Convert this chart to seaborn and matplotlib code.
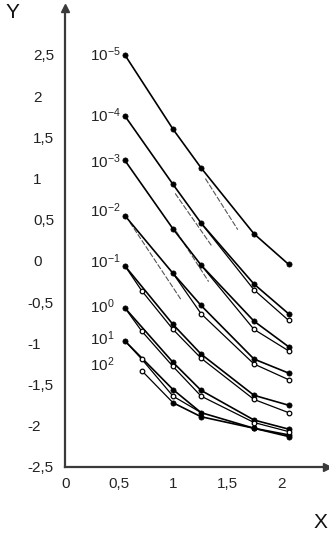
import numpy as np
import pandas as pd
import matplotlib
matplotlib.use("Agg")
import matplotlib.pyplot as plt
from matplotlib.transforms import blended_transform_factory
import seaborn as sns

# ---------------- data ----------------
labels = ["10$^{-5}$", "10$^{-4}$", "10$^{-3}$", "10$^{-2}$",
          "10$^{-1}$", "10$^{0}$", "10$^{1}$", "10$^{2}$"]
label_x = 0.23
label_y = [2.43, 1.69, 1.13, 0.53, -0.09, -0.63, -1.02, -1.34]

x_filled = [0.555, 1.0, 1.26, 1.75, 2.07]
x_open = [0.71, 1.0, 1.26, 1.75, 2.07]

y_filled = [
    [2.50, 1.60, 1.13, 0.33, -0.04],
    [1.76, 0.93, 0.46, -0.28, -0.64],
    [1.22, 0.39, -0.05, -0.73, -1.04],
    [0.55, -0.15, -0.54, -1.19, -1.36],
    [-0.06, -0.77, -1.13, -1.63, -1.75],
    [-0.57, -1.23, -1.57, -1.93, -2.04],
    [-0.97, -1.56, -1.84, -2.03, -2.11],
    [None, -1.72, -1.89, -2.03, -2.13],
]
y_open = [
    [None, None, None, None, None],
    [None, None, None, -0.35, -0.72],
    [None, None, None, -0.83, -1.09],
    [None, None, -0.64, -1.25, -1.44],
    [-0.36, -0.83, -1.18, -1.68, -1.84],
    [-0.85, -1.28, -1.64, -1.96, -2.07],
    [-1.19, -1.64, None, None, None],
    [-1.33, None, None, None, None],
]
# index of filled point where the open branch starts / rejoins
open_branch = [None, 2, 2, 1, 0, 0, 0, None]
open_join = [None, None, None, None, None, None, 2, 1]

# thin dashed reference lines (start / end)
dash_x0 = [1.30, 1.02, 1.03, 0.60]
dash_y0 = [1.00, 0.82, 0.36, 0.47]
dash_x1 = [1.60, 1.36, 1.33, 1.08]
dash_y1 = [0.38, 0.18, -0.25, -0.48]

y_ticks = [-2.5, -2, -1.5, -1, -0.5, 0, 0.5, 1, 1.5, 2, 2.5]
y_ticklabels = ["-2,5", "-2", "-1,5", "-1", "-0,5", "0", "0,5", "1", "1,5", "2", "2,5"]
y_extra_tick = 2.88
x_ticks = [0, 0.5, 1, 1.5, 2]
x_ticklabels = ["0", "0,5", "1", "1,5", "2"]

# ---------------- style ----------------
sns.set_style("white")
plt.rcParams["font.family"] = ["Liberation Sans", "DejaVu Sans"]
plt.rcParams["mathtext.fontset"] = "custom"
plt.rcParams["mathtext.rm"] = "Liberation Sans"
plt.rcParams["mathtext.it"] = "Liberation Sans:italic"
plt.rcParams["mathtext.default"] = "regular"

W, H = 329, 535
fig = plt.figure(figsize=(W / 100, H / 100), dpi=100)
ax = fig.add_axes([65 / W, 68 / H, 262 / W, 459 / H])
ax.set_xlim(0, 262 / 108)
ax.set_ylim(-2.5, -2.5 + 459 / 82.4)

LW = 1.2
# dashed helper lines
for x0, y0, x1, y1 in zip(dash_x0, dash_y0, dash_x1, dash_y1):
    d = pd.DataFrame({"x": [x0, x1], "y": [y0, y1]})
    sns.lineplot(data=d, x="x", y="y", ax=ax, color="#555555", lw=0.8,
                 dashes=False, linestyle=(0, (5, 1.5)), sort=False, estimator=None, zorder=2)

for i in range(len(labels)):
    fx = [x for x, y in zip(x_filled, y_filled[i]) if y is not None]
    fy = [y for y in y_filled[i] if y is not None]
    d = pd.DataFrame({"x": fx, "y": fy})
    sns.lineplot(data=d, x="x", y="y", ax=ax, color="black", lw=LW,
                 sort=False, estimator=None, zorder=3)
    sns.scatterplot(data=d, x="x", y="y", ax=ax, color="black", s=14,
                    edgecolor="black", linewidth=0.5, zorder=5)

    ox = [x for x, y in zip(x_open, y_open[i]) if y is not None]
    oy = [y for y in y_open[i] if y is not None]
    if ox:
        px, py = list(ox), list(oy)
        b = open_branch[i]
        if b is not None:
            px = [x_filled[b]] + px
            py = [y_filled[i][b]] + py
        j = open_join[i]
        if j is not None:
            px = px + [x_filled[j]]
            py = py + [y_filled[i][j]]
        dl = pd.DataFrame({"x": px, "y": py})
        sns.lineplot(data=dl, x="x", y="y", ax=ax, color="black", lw=0.9,
                     sort=False, estimator=None, zorder=3)
        do = pd.DataFrame({"x": ox, "y": oy})
        sns.scatterplot(data=do, x="x", y="y", ax=ax, color="white", s=11,
                        edgecolor="black", linewidth=0.9, zorder=6)

for lab, ly in zip(labels, label_y):
    ax.text(label_x, ly, lab, fontsize=11, ha="left", va="baseline", color="#222222")

# ---------------- axes ----------------
for s in ["top", "right"]:
    ax.spines[s].set_visible(False)
for s in ["left", "bottom"]:
    ax.spines[s].set_color("#3a3a3a")
    ax.spines[s].set_linewidth(1.6)

ax.set_yticks(y_ticks + [y_extra_tick])
ax.set_yticklabels([""] * (len(y_ticks) + 1))
ax.set_xticks(x_ticks[1:])
ax.set_xticklabels(x_ticklabels[1:], fontsize=11)
ax.tick_params(axis="y", direction="in", length=8, width=1.4, color="#8a8a8a")
ax.tick_params(axis="x", direction="in", length=7, width=1.4, color="#8a8a8a", pad=7)
ax.set_xlabel("")
ax.set_ylabel("")

# y tick labels, left aligned like the original
ty = blended_transform_factory(fig.transFigure, ax.transData)
for v, t in zip(y_ticks, y_ticklabels):
    xpix = 27.5 if t.startswith("-") else 33
    ax.text(xpix / W, v, t, transform=ty, fontsize=11, ha="left",
            va="center_baseline", color="#222222")
# x tick label "0" at origin
tx = blended_transform_factory(ax.transData, fig.transFigure)
ax.text(x_ticks[0] + 0.01, (H - 483) / H, x_ticklabels[0], transform=tx,
        fontsize=11, ha="center", va="center_baseline", color="#222222")

# arrow heads
ax.plot([1], [0], marker=">", color="#3a3a3a", ms=6, transform=ax.transAxes, clip_on=False)
ax.plot([0], [1], marker="^", color="#3a3a3a", ms=6, transform=ax.transAxes, clip_on=False)

fig.text(12 / W, 1 - 12 / H, "Y", fontsize=15, ha="center", va="center", color="#111111")
fig.text(320 / W, 1 - 523 / H, "X", fontsize=15, ha="center", va="center", color="#111111")

fig.savefig("out.png", dpi=100)
